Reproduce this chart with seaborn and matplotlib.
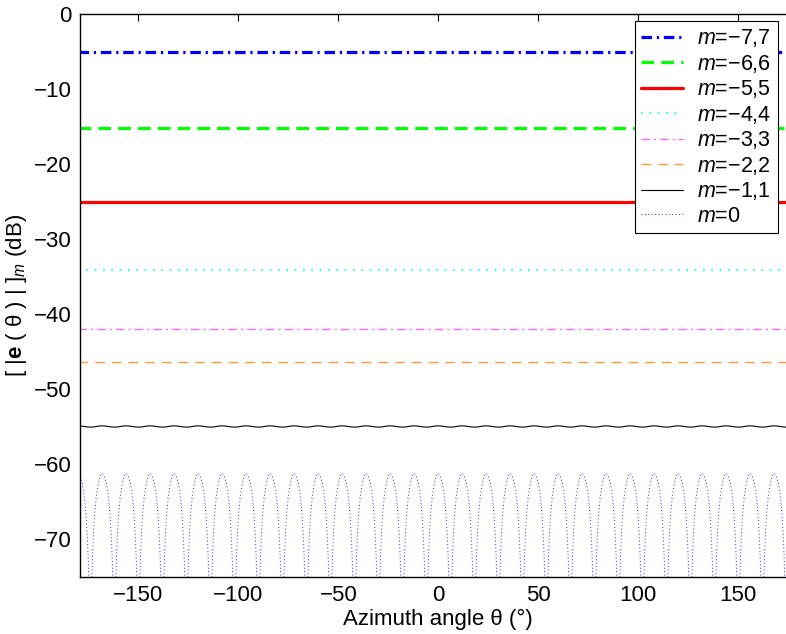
import numpy as np
import pandas as pd
import matplotlib
matplotlib.use("Agg")
import matplotlib.pyplot as plt
import seaborn as sns

# ---- data -----------------------------------------------------------------
series_labels = [r"$m$=−7,7", r"$m$=−6,6", r"$m$=−5,5", r"$m$=−4,4",
                 r"$m$=−3,3", r"$m$=−2,2", r"$m$=−1,1", r"$m$=0"]

# flat components (dB) for |m| = 7 ... 2
flat_level_db = [-5.0, -15.2, -25.1, -34.1, -42.0, -46.4]

# |m| = 1 : nearly flat with a small ripple repeating every 12 degrees
m1_level_db = -54.95
ripple_offset_deg = [0, 2, 4, 6, 8, 10]
ripple_db = [0.09, 0.045, -0.045, -0.09, -0.045, 0.045]

# m = 0 : lobes repeating every 12 degrees, one lobe profile around its peak
lobe_offset_deg = [-5.5, -5.0, -4.5, -4.0, -3.0, -2.0, -1.0, 0.0,
                   1.0, 2.0, 3.0, 4.0, 4.5, 5.0, 5.5, 6.0]
lobe_db = [-78.9, -72.9, -69.5, -67.2, -64.2, -62.5, -61.5, -61.2,
           -61.5, -62.5, -64.2, -67.2, -69.5, -72.9, -78.9, -95.0]
lobe_peak_deg = np.arange(-180, 181, 12)
ripple_start_deg = np.arange(-180, 181, 12)

azimuth_limits = (-179, 179)

# ---- build tables -----------------------------------------------------------
theta = np.arange(-180, 180.5, 1.0)
frames = []
for lab, lev in zip(series_labels[:6], flat_level_db):
    frames.append(pd.DataFrame({"theta": theta, "db": lev, "m": lab}))

r_theta = np.concatenate([s + np.array(ripple_offset_deg) for s in ripple_start_deg])
r_db = np.tile(np.array(ripple_db) + m1_level_db, len(ripple_start_deg))
frames.append(pd.DataFrame({"theta": r_theta, "db": r_db, "m": series_labels[6]}))

l_theta = np.concatenate([p + np.array(lobe_offset_deg) for p in lobe_peak_deg])
l_db = np.tile(np.array(lobe_db), len(lobe_peak_deg))
l_theta = np.concatenate([[lobe_peak_deg[0] - 6.0], l_theta])
l_db = np.concatenate([[-95.0], l_db])
frames.append(pd.DataFrame({"theta": l_theta, "db": l_db, "m": series_labels[7]}))
df = pd.concat(frames, ignore_index=True)

styles = {
    series_labels[0]: dict(color="#0000FF", lw=2.3, ls=(0, (3.3, 1.5, 0.7, 1.5))),
    series_labels[1]: dict(color="#00FF00", lw=2.3, ls=(0, (4.0, 2.2))),
    series_labels[2]: dict(color="#FF0000", lw=2.3, ls="-"),
    series_labels[3]: dict(color="#00FFFF", lw=1.2, ls=(0, (1, 4))),
    series_labels[4]: dict(color="#FF66FF", lw=1.0, ls=(0, (6, 3, 1.5, 3))),
    series_labels[5]: dict(color="#FF9933", lw=1.0, ls=(0, (7, 5))),
    series_labels[6]: dict(color="#000000", lw=0.8, ls="-"),
    series_labels[7]: dict(color="#2222FF", lw=0.7, ls=(0, (1, 2.5))),
}

# ---- style ------------------------------------------------------------------
sns.set_theme(style="white")
plt.rcParams.update({
    "font.family": ["Liberation Sans", "DejaVu Sans"],
    "mathtext.fontset": "custom",
    "mathtext.rm": "Liberation Sans",
    "mathtext.it": "Liberation Sans:italic",
    "mathtext.bf": "Liberation Sans:bold",
    "axes.edgecolor": "black",
    "axes.linewidth": 1.0,
    "xtick.direction": "in",
    "ytick.direction": "in",
    "xtick.top": True,
    "ytick.right": True,
    "xtick.major.size": 5,
    "ytick.major.size": 5,
    "xtick.major.width": 0.8,
    "ytick.major.width": 0.8,
    "xtick.color": "black",
    "ytick.color": "black",
    "text.color": "black",
    "axes.labelcolor": "black",
})

W, H = 786, 634
fig = plt.figure(figsize=(W / 100, H / 100), dpi=100)
left_px, right_px, top_px, bottom_px = 80.3, 796.3, 14, 577
ax = fig.add_axes([left_px / W, 1 - bottom_px / H,
                   (right_px - left_px) / W, (bottom_px - top_px) / H])

for lab in series_labels:
    st = styles[lab]
    sns.lineplot(data=df[df["m"] == lab], x="theta", y="db", ax=ax,
                 color=st["color"], linewidth=st["lw"], linestyle=st["ls"],
                 label=lab, estimator=None, sort=False)

ax.set_xlim(*azimuth_limits)
ax.set_ylim(-75, 0)
ax.set_xticks([-150, -100, -50, 0, 50, 100, 150])
ax.set_yticks([0, -10, -20, -30, -40, -50, -60, -70])
ax.tick_params(labelsize=16, pad=6)
ax.set_xlabel("Azimuth angle θ (°)", fontsize=16, labelpad=2)
ax.set_ylabel(r"[ |$\mathbf{e}$ ( θ ) | $]_{m}$ (dB)", fontsize=16, labelpad=4)
for side in ["top", "right", "left", "bottom"]:
    ax.spines[side].set_visible(True)

leg = ax.legend(loc="upper right", bbox_to_anchor=(778 / W, 1 - 21 / H),
                bbox_transform=fig.transFigure, borderaxespad=0,
                fontsize=15.5, frameon=True, fancybox=False, framealpha=1,
                edgecolor="black", handlelength=1.95, handletextpad=0.65,
                labelspacing=0.16, borderpad=0.3)
leg.get_frame().set_linewidth(0.8)

fig.savefig("out.png", dpi=100)
